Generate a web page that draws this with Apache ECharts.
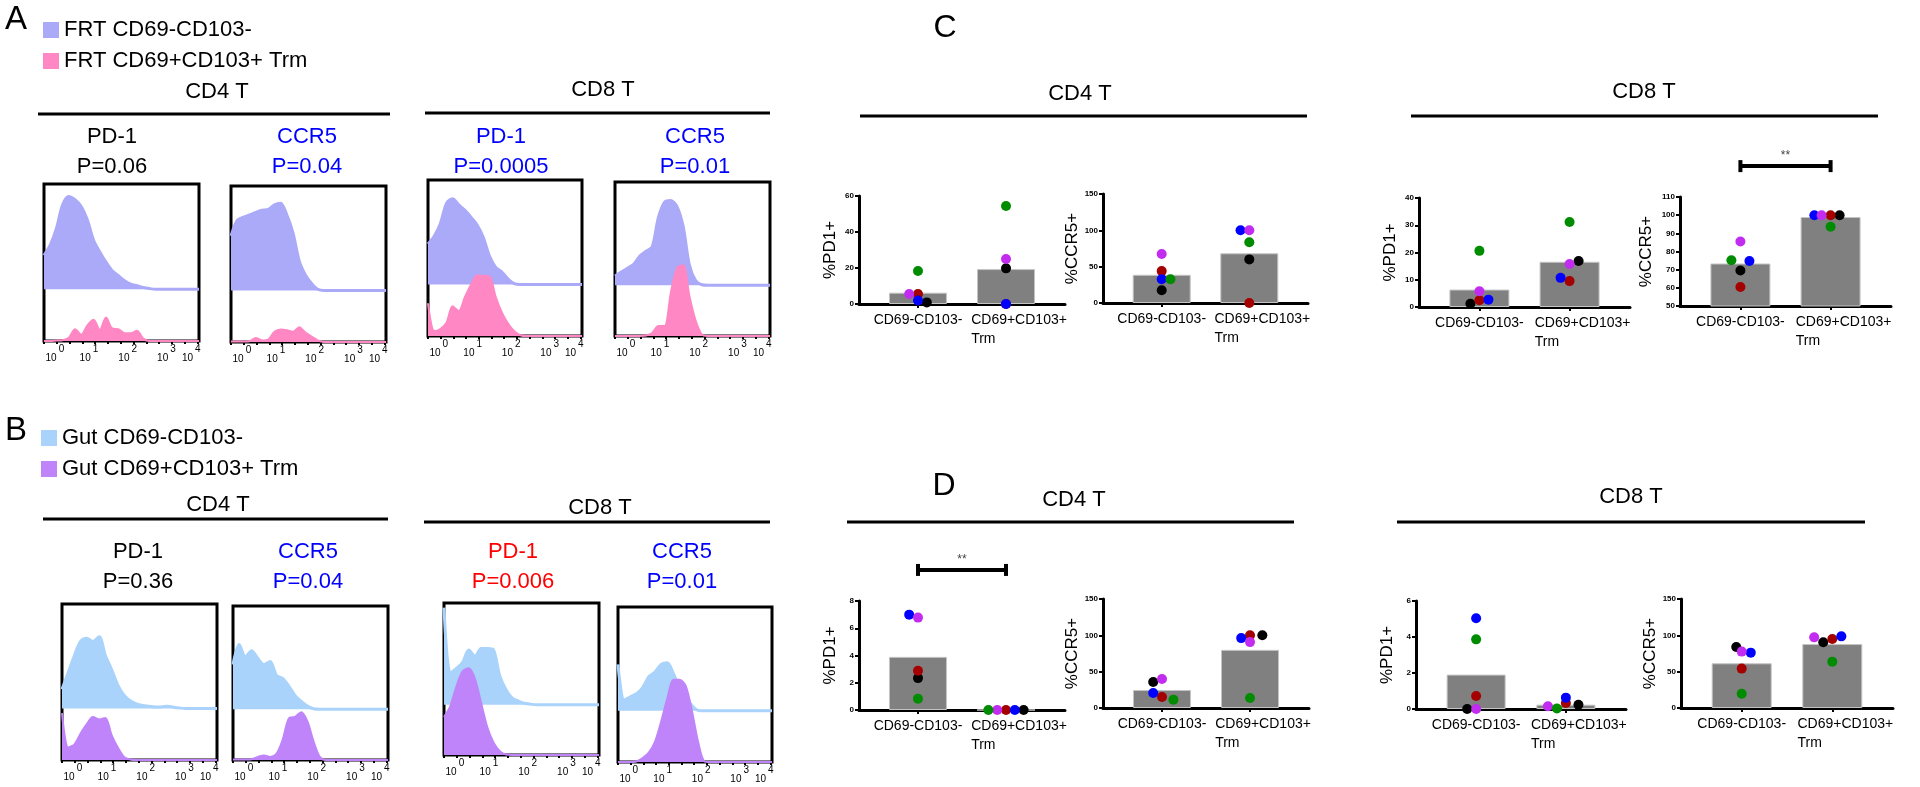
<!DOCTYPE html>
<html><head><meta charset="utf-8">
<script src="https://cdn.jsdelivr.net/npm/echarts@6/dist/echarts.min.js"></script>
<style>html,body{margin:0;padding:0;background:#fff}#c{width:1920px;height:787px}</style>
</head><body><div id="c"></div><script>
const FONT = '"Liberation Sans", Arial, sans-serif';

// ---------- Histogram data (channel position 0..100 across each plot box) ----------
const channel = [0,4,8,12,16,20,24,28,32,36,40,44,48,52,56,60,64,68,72,76,80,84,88,92,96,100];
const histExponents = ['0','1','2','3','4'];
const histLabelPos = [7, 29, 54, 79, 95];

// Panel A (FRT)
const A_CD4_PD1_neg  = [21.5,28,38.7,53.8,59.1,57,52.7,44,31.2,23.7,17.2,11.8,8.6,5.4,3.2,2.2,1.1,0.4,0,0,0,0,0,0,0,0];
const A_CD4_PD1_trm  = [0,0,0.3,0.5,2,7.5,4,10,13.5,7,15,8,7.5,5,5,6.5,1.5,0,0,0,0,0,0,0,0,0];
const A_CD4_CCR5_neg = [35,45,47,48.5,50,51.5,52,55,56,48.5,37,19,10,4.5,0.8,0,0,0,0,0,0,0,0,0,0,0];
const A_CD4_CCR5_trm = [0.3,0.3,0.3,0.5,2.5,1,1.5,6.5,8,7.5,6.5,9.5,6,3.5,1,0,0,0,0,0,0,0,0,0,0,0];
const A_CD8_PD1_neg  = [26,31,39,52,55,51,47.5,43,38,30,18,11,8,3.5,0.5,0,0,0,0,0,0,0,0,0,0,0];
const A_CD8_PD1_trm  = [21,3.2,4.5,8.5,19,16,25,33,39,38.5,38,25,15,8,3,0.5,0,0,0,0,0,0,0,0,0,0];
const A_CD8_CCR5_neg = [6,8.5,11,13.5,19,22,25,44,54,55,51,38,13,3,0.3,0,0,0,0,0,0,0,0,0,0,0];
const A_CD8_CCR5_trm = [0,0,0,0,0,0.3,2,6.5,6.5,28,44,46,26,10,1,0,0,0,0,0,0,0,0,0,0,0];
// Panel B (Gut)
const B_CD4_PD1_neg  = [12.3,23,34,43,45,43,46,34,25,15,8.5,5,3,2,1.5,1,1,1.5,0.8,0.3,0,0,0,0,0,0];
const B_CD4_PD1_trm  = [30,8,10,17,23,27.5,26,27,16,8,2,0.3,0,0,0,0,0,0,0,0,0,0,0,0,0,0];
const B_CD4_CCR5_neg = [29,42,34,38,33,29,31,22,20,15,9,5,2,0.3,0,0,0,0,0,0,0,0,0,0,0,0];
const B_CD4_CCR5_trm = [0.3,0.3,0.3,0.5,2,3,2,4,13,27,28,31,25,12,2,0,0,0,0,0,0,0,0,0,0,0];
const B_CD8_PD1_neg  = [64,21,24,28,36,32,37,37,36,19,10,4.5,2.5,1,0.4,0,0,0,0,0,0,0,0,0,0,0];
const B_CD8_PD1_trm  = [25,32,45,55,57,50,34,18,8,2.5,0.3,0,0,0,0,0,0,0,0,0,0,0,0,0,0,0];
const B_CD8_CCR5_neg = [30,7,9,11,15,22,25,30,31,24,15,9,3.5,0.3,0,0,0,0,0,0,0,0,0,0,0,0];
const B_CD8_CCR5_trm = [0,0,0,0.3,2.5,6,13,26,41,53,53,49,33,13,0.5,0,0,0,0,0,0,0,0,0,0,0];

// ---------- Bar + dot data (donor order: black, red, blue, magenta, green) ----------
const groups = ['CD69-CD103-', 'CD69+CD103+\nTrm'];
const donorColors = ['#000000', '#a50000', '#0000ff', '#c22cf0', '#008c00'];

const C_CD4_PD1_bar = [6.3, 19.4];
const C_CD4_PD1_neg = [0.9, 5.6, 1.9, 5.6, 18.3];
const C_CD4_PD1_trm = [19.8, 0, 0, 25, 54.4];
const C_CD4_PD1_jitNeg = [0.1, 0, 0, -0.1, 0];
const C_CD4_PD1_jitTrm = [0, 0, 0, 0, 0];

const C_CD4_CCR5_bar = [38.8, 68.4];
const C_CD4_CCR5_neg = [17.6, 43.9, 32.8, 67.4, 32.8];
const C_CD4_CCR5_trm = [60, 0, 100, 100, 83.6];
const C_CD4_CCR5_jitNeg = [0, 0, 0, 0, 0.1];
const C_CD4_CCR5_jitTrm = [0, 0, -0.1, 0, 0];

const C_CD8_PD1_bar = [6.4, 16.6];
const C_CD8_PD1_neg = [1.2, 2.5, 2.7, 5.8, 20.6];
const C_CD8_PD1_trm = [16.9, 9.5, 10.7, 15.8, 31.2];
const C_CD8_PD1_jitNeg = [-0.1, 0, 0.1, 0, 0];
const C_CD8_PD1_jitTrm = [0.1, 0, -0.1, 0, 0];

const C_CD8_CCR5_bar = [73.4, 99];
const C_CD8_CCR5_neg = [69.5, 60.5, 74.8, 85.5, 75.2];
const C_CD8_CCR5_trm = [100, 100, 100, 100, 93.6];
const C_CD8_CCR5_jitNeg = [0, 0, 0.1, 0, -0.1];
const C_CD8_CCR5_jitTrm = [0.1, 0, -0.18, -0.1, 0];
const C_CD8_CCR5_sig = [127, '**'];

const D_CD4_PD1_bar = [3.9, 0];
const D_CD4_PD1_neg = [2.34, 2.88, 7.0, 6.78, 0.83];
const D_CD4_PD1_trm = [0, 0, 0, 0, 0];
const D_CD4_PD1_jitNeg = [0, 0, -0.1, 0, 0];
const D_CD4_PD1_jitTrm = [0.2, 0, 0.1, -0.1, -0.2];
const D_CD4_PD1_sig = [10.28, '**'];

const D_CD4_CCR5_bar = [24.8, 80];
const D_CD4_CCR5_neg = [35.9, 15.2, 20.7, 40, 11.5];
const D_CD4_CCR5_trm = [100, 100, 96.2, 90.7, 13.8];
const D_CD4_CCR5_jitNeg = [-0.1, 0, -0.1, 0, 0.13];
const D_CD4_CCR5_jitTrm = [0.14, 0, -0.1, 0, 0];

const D_CD8_PD1_bar = [1.91, 0.24];
const D_CD8_PD1_neg = [0, 0.72, 5.04, 0, 3.87];
const D_CD8_PD1_trm = [0.24, 0.33, 0.63, 0.15, 0.03];
const D_CD8_PD1_jitNeg = [-0.1, 0, 0, 0, 0];
const D_CD8_PD1_jitTrm = [0.14, 0, 0, -0.2, -0.1];

const D_CD8_CCR5_bar = [61.5, 88];
const D_CD8_CCR5_neg = [84, 54.2, 76.2, 77.6, 19.7];
const D_CD8_CCR5_trm = [90.4, 95, 98.6, 97.2, 63.8];
const D_CD8_CCR5_jitNeg = [-0.06, 0, 0.1, 0, 0];
const D_CD8_CCR5_jitTrm = [-0.1, 0, 0.1, -0.2, 0];

// ---------- Layout ----------
const sets = {
  A: {negName: 'FRT CD69-CD103-', posName: 'FRT CD69+CD103+ Trm', negColor: '#aaaaf9', posColor: '#ff87c3'},
  B: {negName: 'Gut CD69-CD103-', posName: 'Gut CD69+CD103+ Trm', negColor: '#a9d3fb', posColor: '#c084fa'}
};
const hists = [
  {set:'A', box:[44,184,155,157], neg:A_CD4_PD1_neg,  pos:A_CD4_PD1_trm},
  {set:'A', box:[231,186,155,156], neg:A_CD4_CCR5_neg, pos:A_CD4_CCR5_trm},
  {set:'A', box:[428,180,154,156], neg:A_CD8_PD1_neg,  pos:A_CD8_PD1_trm},
  {set:'A', box:[615,182,155,154], neg:A_CD8_CCR5_neg, pos:A_CD8_CCR5_trm},
  {set:'B', box:[62,604,155,156], neg:B_CD4_PD1_neg,  pos:B_CD4_PD1_trm},
  {set:'B', box:[233,606,155,154], neg:B_CD4_CCR5_neg, pos:B_CD4_CCR5_trm},
  {set:'B', box:[444,603,155,152], neg:B_CD8_PD1_neg,  pos:B_CD8_PD1_trm},
  {set:'B', box:[618,607,154,155], neg:B_CD8_CCR5_neg, pos:B_CD8_CCR5_trm}
];
const histTicks = Array.from({length: 13}, (_, i) => i * 8.25);

const plots = [
  {box:[859,196,206,108], ymin:0, ymax:60, step:20, name:'%PD1+', gap:20, bar:C_CD4_PD1_bar, neg:C_CD4_PD1_neg, trm:C_CD4_PD1_trm, jn:C_CD4_PD1_jitNeg, jt:C_CD4_PD1_jitTrm},
  {box:[1103,194,205,109], ymin:0, ymax:150, step:50, name:'%CCR5+', gap:21, bar:C_CD4_CCR5_bar, neg:C_CD4_CCR5_neg, trm:C_CD4_CCR5_trm, jn:C_CD4_CCR5_jitNeg, jt:C_CD4_CCR5_jitTrm},
  {box:[1419,198,211,109], ymin:0, ymax:40, step:10, name:'%PD1+', gap:20, bar:C_CD8_PD1_bar, neg:C_CD8_PD1_neg, trm:C_CD8_PD1_trm, jn:C_CD8_PD1_jitNeg, jt:C_CD8_PD1_jitTrm},
  {box:[1680,197,211,109], ymin:50, ymax:110, step:10, name:'%CCR5+', gap:25, bar:C_CD8_CCR5_bar, neg:C_CD8_CCR5_neg, trm:C_CD8_CCR5_trm, jn:C_CD8_CCR5_jitNeg, jt:C_CD8_CCR5_jitTrm, sig:C_CD8_CCR5_sig},
  {box:[859,601,206,109], ymin:0, ymax:8, step:2, name:'%PD1+', gap:20, bar:D_CD4_PD1_bar, neg:D_CD4_PD1_neg, trm:D_CD4_PD1_trm, jn:D_CD4_PD1_jitNeg, jt:D_CD4_PD1_jitTrm, sig:D_CD4_PD1_sig},
  {box:[1103,599,206,109], ymin:0, ymax:150, step:50, name:'%CCR5+', gap:20, bar:D_CD4_CCR5_bar, neg:D_CD4_CCR5_neg, trm:D_CD4_CCR5_trm, jn:D_CD4_CCR5_jitNeg, jt:D_CD4_CCR5_jitTrm},
  {box:[1416,601,210,108], ymin:0, ymax:6, step:2, name:'%PD1+', gap:20, bar:D_CD8_PD1_bar, neg:D_CD8_PD1_neg, trm:D_CD8_PD1_trm, jn:D_CD8_PD1_jitNeg, jt:D_CD8_PD1_jitTrm},
  {box:[1681,599,212,109], ymin:0, ymax:150, step:50, name:'%CCR5+', gap:21, bar:D_CD8_CCR5_bar, neg:D_CD8_CCR5_neg, trm:D_CD8_CCR5_trm, jn:D_CD8_CCR5_jitNeg, jt:D_CD8_CCR5_jitTrm}
];
const XMIN = -0.67, XMAX = 1.67;

const option = {
  animation: false,
  backgroundColor: '#ffffff',
  textStyle: {fontFamily: FONT},
  grid: [], xAxis: [], yAxis: [], series: [],
  legend: [
    {data: [sets.A.negName, sets.A.posName], orient: 'vertical', left: 43, top: 19, padding: 0,
     itemWidth: 16, itemHeight: 16, itemGap: 9, icon: 'rect', selectedMode: false,
     textStyle: {fontSize: 22, fontFamily: FONT, color: '#000', lineHeight: 22}},
    {data: [sets.B.negName, sets.B.posName], orient: 'vertical', left: 41, top: 427, padding: 0,
     itemWidth: 16, itemHeight: 16, itemGap: 9, icon: 'rect', selectedMode: false,
     textStyle: {fontSize: 22, fontFamily: FONT, color: '#000', lineHeight: 22}}
  ],
  graphic: []
};

// Histograms
hists.forEach(h => {
  const s = sets[h.set];
  const gi = option.grid.length;
  option.grid.push({left: h.box[0], top: h.box[1], width: h.box[2], height: h.box[3], show: true,
    borderColor: '#000', borderWidth: 3, backgroundColor: 'rgba(0,0,0,0)'});
  const xi = option.xAxis.length;
  option.xAxis.push({gridIndex: gi, type: 'value', min: 0, max: 100, position: 'bottom',
    axisLine: {show: false, onZero: false}, splitLine: {show: false},
    axisTick: {show: true, customValues: histTicks, length: 3, lineStyle: {color: '#000', width: 2}},
    axisLabel: {show: true, customValues: histLabelPos, margin: 3, hideOverlap: false,
      formatter: v => {
        let k = 0, best = 1e9;
        histLabelPos.forEach((p, i) => { if (Math.abs(p - v) < best) { best = Math.abs(p - v); k = i; } });
        return '{b|10}{s|' + histExponents[k] + '}';
      },
      rich: {
        b: {fontSize: 10, fontFamily: FONT, color: '#000', verticalAlign: 'bottom', lineHeight: 19},
        s: {fontSize: 10, fontFamily: FONT, color: '#000', verticalAlign: 'top', lineHeight: 10, padding: [0, 0, 0, 2]}
      }}});
  const yi = option.yAxis.length;
  option.yAxis.push({gridIndex: gi, type: 'value', min: 0, max: 100, show: false});
  option.yAxis.push({gridIndex: gi, type: 'value', min: -33, max: 67, show: false});
  option.series.push({type: 'line', name: s.negName, xAxisIndex: xi, yAxisIndex: yi + 1,
    data: channel.map((c, k) => [c, h.neg[k]]), smooth: 0.3, symbol: 'none', silent: true,
    itemStyle: {color: s.negColor}, lineStyle: {color: s.negColor, width: 3},
    areaStyle: {color: s.negColor, opacity: 1}, z: 2});
  option.series.push({type: 'line', name: s.posName, xAxisIndex: xi, yAxisIndex: yi,
    data: channel.map((c, k) => [c, h.pos[k]]), smooth: 0.3, symbol: 'none', silent: true,
    itemStyle: {color: s.posColor}, lineStyle: {color: s.posColor, width: 2},
    areaStyle: {color: s.posColor, opacity: 1}, z: 3});
});

// Bar + dot plots
plots.forEach(p => {
  const gi = option.grid.length;
  const pxPerUnit = p.box[2] / (XMAX - XMIN);
  option.grid.push({left: p.box[0], top: p.box[1], width: p.box[2], height: p.box[3], show: false});
  const xi = option.xAxis.length;
  // main x axis: line, group ticks, first group label
  option.xAxis.push({gridIndex: gi, type: 'value', min: XMIN, max: XMAX, position: 'bottom', splitLine: {show: false},
    axisLine: {show: true, onZero: false, lineStyle: {color: '#000', width: 3}},
    axisTick: {show: true, customValues: [0, 1], length: 4, lineStyle: {color: '#000', width: 2}},
    axisLabel: {show: true, customValues: [0], margin: 7, hideOverlap: false,
      formatter: () => groups[0], fontSize: 14, fontFamily: FONT, color: '#000', lineHeight: 19}});
  // companion x axis on the same grid carrying the second group label
  option.xAxis.push({gridIndex: gi, type: 'value', min: XMIN, max: XMAX, position: 'bottom', splitLine: {show: false},
    axisLine: {show: false, onZero: false}, axisTick: {show: false},
    axisLabel: {show: true, customValues: [1], margin: 7, hideOverlap: false,
      formatter: () => groups[1].split('\n').map(t => '{b|' + t + '}').join('\n'),
      rich: {b: {fontSize: 14, fontFamily: FONT, color: '#000', lineHeight: 19, align: 'left', padding: [0, 0, 0, 26]}}}});
  const yi = option.yAxis.length;
  option.yAxis.push({gridIndex: gi, type: 'value', min: p.ymin, max: p.ymax, interval: p.step,
    name: p.name, nameLocation: 'middle', nameGap: p.gap,
    nameTextStyle: {fontSize: 17, fontFamily: FONT, color: '#000'},
    splitLine: {show: false},
    axisLine: {show: true, onZero: false, lineStyle: {color: '#000', width: 3}},
    axisTick: {show: true, length: 4, lineStyle: {color: '#000', width: 2}},
    axisLabel: {fontSize: 8, fontWeight: 'bold', fontFamily: FONT, color: '#000', margin: 5}});
  option.series.push({type: 'bar', xAxisIndex: xi, yAxisIndex: yi, silent: true,
    barWidth: Math.round(0.66 * pxPerUnit),
    data: p.bar.map((v, k) => [k, v]),
    itemStyle: {color: '#808080', borderColor: '#c4c4c4', borderWidth: 1}, z: 2});
  donorColors.forEach((col, i) => {
    option.series.push({type: 'scatter', xAxisIndex: xi, yAxisIndex: yi, silent: true,
      symbolSize: 10, itemStyle: {color: col, opacity: 1}, z: 4, clip: false,
      data: [[0 + p.jn[i], p.neg[i]], [1 + p.jt[i], p.trm[i]]]});
  });
  if (p.sig) {
    option.series.push({type: 'line', xAxisIndex: xi, yAxisIndex: yi, silent: true, clip: false,
      data: [[0, p.sig[0]], [1, p.sig[0]]], symbol: 'rect', symbolSize: [4, 12], showSymbol: true, showAllSymbol: true,
      itemStyle: {color: '#000'}, lineStyle: {color: '#000', width: 4}, z: 5});
    option.series.push({type: 'scatter', xAxisIndex: xi, yAxisIndex: yi, silent: true, clip: false,
      data: [[0.5, p.sig[0]]], symbolSize: 2, itemStyle: {color: 'rgba(255,255,255,0)'},
      label: {show: true, position: 'top', distance: 3, formatter: () => p.sig[1], fontSize: 12, fontFamily: FONT, color: '#444', opacity: 1}, z: 6});
  }
});

// Text annotations and header rules
function T(x, y, text, size, color) {
  return {type: 'text', x: x, y: y, z: 10, silent: true,
    style: {text: text, font: size + 'px ' + FONT, fill: color || '#000',
      align: 'center', textAlign: 'center', verticalAlign: 'middle', textVerticalAlign: 'middle'}};
}
function L(x1, x2, y) {
  return {type: 'line', z: 10, silent: true, shape: {x1: x1, y1: y, x2: x2, y2: y}, style: {stroke: '#000', lineWidth: 3}};
}
const BLUE = '#0000ff', RED = '#ff0000';
option.graphic = [
  T(16, 20, 'A', 33), T(16, 431, 'B', 33), T(945, 28, 'C', 32), T(944, 486, 'D', 32),
  // A
  T(217, 92, 'CD4 T', 22), L(38, 390, 114),
  T(112, 137, 'PD-1', 22), T(112, 167, 'P=0.06', 22),
  T(307, 137, 'CCR5', 22, BLUE), T(307, 167, 'P=0.04', 22, BLUE),
  T(603, 90, 'CD8 T', 22), L(425, 770, 113),
  T(501, 137, 'PD-1', 22, BLUE), T(501, 167, 'P=0.0005', 22, BLUE),
  T(695, 137, 'CCR5', 22, BLUE), T(695, 167, 'P=0.01', 22, BLUE),
  // B
  T(218, 505, 'CD4 T', 22), L(43, 388, 519),
  T(138, 552, 'PD-1', 22), T(138, 582, 'P=0.36', 22),
  T(308, 552, 'CCR5', 22, BLUE), T(308, 582, 'P=0.04', 22, BLUE),
  T(600, 508, 'CD8 T', 22), L(424, 770, 522),
  T(513, 552, 'PD-1', 22, RED), T(513, 582, 'P=0.006', 22, RED),
  T(682, 552, 'CCR5', 22, BLUE), T(682, 582, 'P=0.01', 22, BLUE),
  // C
  T(1080, 94, 'CD4 T', 22), L(860, 1307, 116),
  T(1644, 92, 'CD8 T', 22), L(1411, 1878, 116),
  // D
  T(1074, 500, 'CD4 T', 22), L(847, 1294, 522),
  T(1631, 497, 'CD8 T', 22), L(1397, 1865, 522)
];

const chart = echarts.init(document.getElementById('c'), null, {renderer: 'canvas', width: 1920, height: 787});
chart.setOption(option);
</script></body></html>
